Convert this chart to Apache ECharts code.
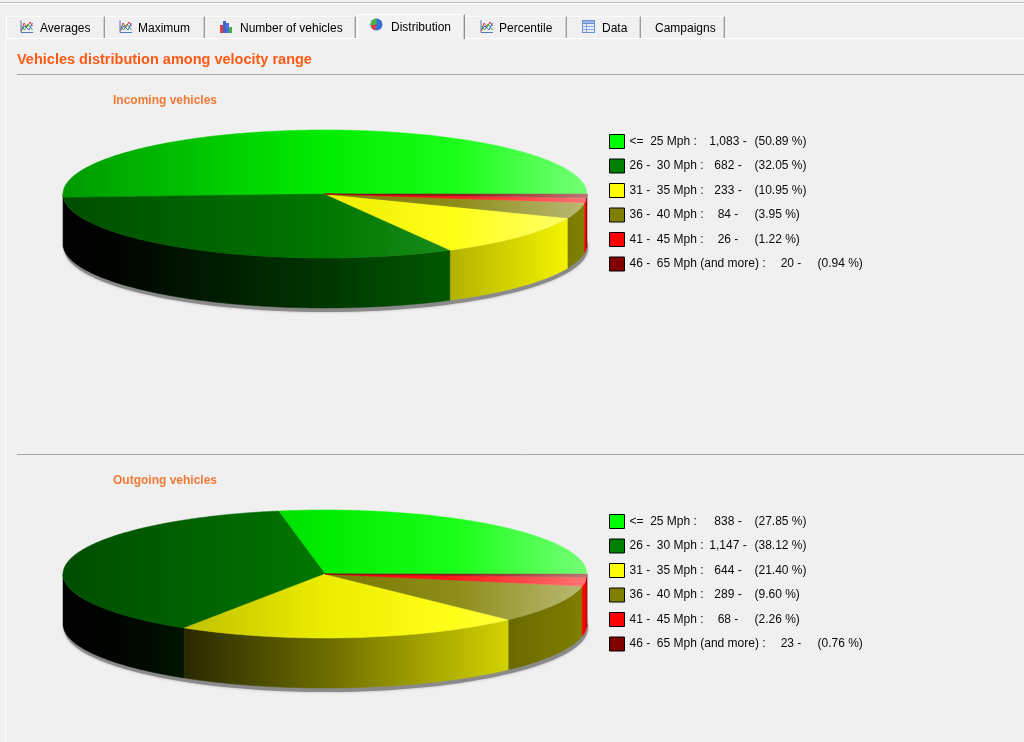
<!DOCTYPE html>
<html>
<head>
<meta charset="utf-8">
<script src="https://cdn.jsdelivr.net/npm/echarts@6/dist/echarts.min.js"></script>
<style>
html,body{margin:0;padding:0;background:#f0f0f0;width:1024px;height:742px;overflow:hidden;font-family:"Liberation Sans",Arial,sans-serif;}
#chart{position:absolute;left:0;top:0;width:1024px;height:742px;}
.ln{position:absolute;}
.tab{position:absolute;top:16px;height:22px;box-sizing:border-box;border-top:1px solid #fbfbfb;border-right:1px solid #9c9c9c;box-shadow:inset -1px 0 0 #cfcfcf;}
.tab.active{top:14px;height:25px;background:#f3f3f3;border-left:1px solid #ffffff;border-top:1px solid #ffffff;border-right:1px solid #8e8e8e;z-index:3;}
.tt{position:absolute;font-size:12px;line-height:14px;color:#000;white-space:nowrap;z-index:4;}
.ic{position:absolute;width:13px;height:13px;z-index:4;}
</style>
</head>
<body>
<div id="chart"></div>
<div class="ln" style="left:0;top:2px;width:1024px;height:1px;background:#bdbdbd;"></div>
<div class="ln" style="left:0;top:3px;width:1024px;height:1px;background:#fafafa;"></div>
<div class="ln" style="left:5px;top:38px;width:1019px;height:1px;background:#ffffff;z-index:2;"></div>
<div class="ln" style="left:5px;top:38px;width:1px;height:704px;background:#ffffff;"></div>

<div class="tab" style="left:6px;width:99px;border-left:1px solid #fff;"></div>
<div class="tab" style="left:105px;width:100px;"></div>
<div class="tab" style="left:205px;width:151px;"></div>
<div class="tab active" style="left:357px;width:108px;"></div>
<div class="tab" style="left:465px;width:102px;"></div>
<div class="tab" style="left:567px;width:74px;"></div>
<div class="tab" style="left:641px;width:84px;"></div>

<svg class="ic" style="left:20px;top:20px" viewBox="0 0 13 13"><path d="M1 0.5V12.5H13" stroke="#5577bb" fill="none"/><polyline points="1.5,11 4,3 7,7 10,2 12.5,6" stroke="#dd3333" fill="none"/><polyline points="1.5,6 4.5,10 8,4 12.5,10" stroke="#33aa33" fill="none"/><polyline points="1.5,9 5,6 9,10 12.5,3" stroke="#3366dd" fill="none"/></svg>
<div class="tt" style="left:40px;top:21px;">Averages</div>
<svg class="ic" style="left:119px;top:20px" viewBox="0 0 13 13"><path d="M1 0.5V12.5H13" stroke="#5577bb" fill="none"/><polyline points="1.5,11 4,3 7,7 10,2 12.5,6" stroke="#dd3333" fill="none"/><polyline points="1.5,6 4.5,10 8,4 12.5,10" stroke="#33aa33" fill="none"/><polyline points="1.5,9 5,6 9,10 12.5,3" stroke="#3366dd" fill="none"/></svg>
<div class="tt" style="left:138px;top:21px;">Maximum</div>
<svg class="ic" style="left:219px;top:20px" viewBox="0 0 13 13"><rect x="1" y="5" width="3" height="8" fill="#e04040"/><rect x="4" y="1" width="3" height="12" fill="#4060d0"/><rect x="7" y="3" width="3" height="10" fill="#4a70e0"/><rect x="10" y="7" width="3" height="6" fill="#40b040"/></svg>
<div class="tt" style="left:240px;top:21px;">Number of vehicles</div>
<svg class="ic" style="left:370px;top:18px" viewBox="0 0 13 13"><circle cx="6.5" cy="6.5" r="6" fill="#3a6fd8"/><path d="M6.5 6.5L6.5 0.5A6 6 0 0 0 0.6 7.5Z" fill="#44bb44"/><path d="M6.5 6.5L0.6 7.5A6 6 0 0 0 5 12.3Z" fill="#e04040"/></svg>
<div class="tt" style="left:391px;top:20px;">Distribution</div>
<svg class="ic" style="left:480px;top:20px" viewBox="0 0 13 13"><path d="M1 0.5V12.5H13" stroke="#5577bb" fill="none"/><polyline points="1.5,11 4,3 7,7 10,2 12.5,6" stroke="#dd3333" fill="none"/><polyline points="1.5,6 4.5,10 8,4 12.5,10" stroke="#33aa33" fill="none"/><polyline points="1.5,9 5,6 9,10 12.5,3" stroke="#3366dd" fill="none"/></svg>
<div class="tt" style="left:499px;top:21px;">Percentile</div>
<svg class="ic" style="left:582px;top:20px" viewBox="0 0 13 13"><rect x="0.5" y="0.5" width="12" height="12" fill="#e6efff" stroke="#6a8fd0"/><rect x="0.5" y="0.5" width="12" height="3" fill="#9db8e8" stroke="#6a8fd0"/><path d="M0.5 6.5H12.5M0.5 9.5H12.5M4.5 3.5V12.5" stroke="#8aa8dc" fill="none"/></svg>
<div class="tt" style="left:602px;top:21px;">Data</div>
<div class="tt" style="left:655px;top:21px;">Campaigns</div>

<script>
// ---------- data ----------
const categories = ['<=  25 Mph', '26 -  30 Mph', '31 -  35 Mph', '36 -  40 Mph', '41 -  45 Mph', '46 -  65 Mph (and more)'];
const incomingValues = [1083, 682, 233, 84, 26, 20];
const outgoingValues = [838, 1147, 644, 289, 68, 23];
const sliceColors = ['#00ff00', '#008000', '#ffff00', '#808000', '#ff0000', '#800000'];
const pieTitles = ['Incoming vehicles', 'Outgoing vehicles'];
const mainTitle = 'Vehicles distribution among velocity range';

// ---------- layout ----------
const FONT = '"Liberation Sans", Arial, sans-serif';
const pies = [
  { key: 'in', values: incomingValues, title: pieTitles[0], cx: 325, cy: 194, rx: 262, ry: 64, depth: 50, legendTop: 134, titleTop: 94 },
  { key: 'out', values: outgoingValues, title: pieTitles[1], cx: 325, cy: 574, rx: 262, ry: 64, depth: 50, legendTop: 514, titleTop: 474 }
];

function rgb(h) { const n = parseInt(h.slice(1), 16); return [(n >> 16) & 255, (n >> 8) & 255, n & 255]; }
function shade(h, f) { return 'rgb(' + rgb(h).map(v => Math.round(v * f)).join(',') + ')'; }
function tint(h, m) { return 'rgb(' + rgb(h).map(v => Math.round(v + (255 - v) * m)).join(',') + ')'; }

function arcPts(g, a1, a2, dy) {
  const n = Math.max(2, Math.ceil((a2 - a1) / 0.01) + 1);
  const pts = [];
  for (let k = 0; k < n; k++) {
    const a = a1 + (a2 - a1) * k / (n - 1);
    pts.push([g.cx + g.rx * Math.cos(a), g.cy - g.ry * Math.sin(a) + dy]);
  }
  return pts;
}

function renderSlice(g, color, value, before, total) {
  const a1 = before / total * Math.PI * 2;
  const a2 = (before + value) / total * Math.PI * 2;
  const x0 = g.cx - g.rx, x1 = g.cx + g.rx;
  const topFill = new echarts.graphic.LinearGradient(x0, 0, x1, 0, [
    { offset: 0, color: shade(color, 0.6) },
    { offset: 0.5, color: shade(color, 0.93) },
    { offset: 0.75, color: tint(color, 0.1) },
    { offset: 1, color: tint(color, 0.46) }
  ], true);
  const sideFill = new echarts.graphic.LinearGradient(x0, 0, x1, 0, [
    { offset: 0, color: shade(color, 0) },
    { offset: 0.1, color: shade(color, 0.03) },
    { offset: 0.5, color: shade(color, 0.42) },
    { offset: 1, color: shade(color, 1) }
  ], true);
  const children = [];
  const s = Math.max(a1, Math.PI), e = Math.min(a2, Math.PI * 2);
  if (e > s) {
    const pts = arcPts(g, s, e, 0).concat(arcPts(g, s, e, g.depth).reverse());
    children.push({ type: 'polygon', shape: { points: pts }, style: { fill: sideFill, stroke: sideFill, lineWidth: 0.5 } });
  }
  const tp = [[g.cx, g.cy]].concat(arcPts(g, a1, a2, 0));
  children.push({ type: 'polygon', shape: { points: tp }, style: { fill: topFill, stroke: topFill, lineWidth: 0.5 } });
  return { type: 'group', children: children };
}

const series = [];
const legends = [];
const legendInfo = {};
const titles = [{
  text: mainTitle, left: 17, top: 52, padding: 0,
  textStyle: { fontFamily: FONT, fontSize: 14.5, fontWeight: 'bold', color: '#ff5a14', lineHeight: 16 }
}];
const graphics = [
  { type: 'line', shape: { x1: 17, y1: 74.5, x2: 1024, y2: 74.5 }, style: { stroke: '#a8a8a8', lineWidth: 1 }, z: 0 },
  { type: 'line', shape: { x1: 17, y1: 454.5, x2: 1024, y2: 454.5 }, style: { stroke: '#a8a8a8', lineWidth: 1 }, z: 0 }
];

const txt = { fontFamily: FONT, fontSize: 12, color: '#0a0a0a', lineHeight: 14 };

pies.forEach(g => {
  const total = g.values.reduce((a, b) => a + b, 0);
  let cum = 0;
  const names = [];
  g.values.forEach((v, i) => {
    const before = cum; cum += v;
    const name = g.key + ':' + categories[i];
    names.push(name);
    legendInfo[name] = {
      label: categories[i],
      value: v.toLocaleString('en-US'),
      pct: (v / total * 100).toFixed(2),
      long: categories[i].length > 14
    };
    const color = sliceColors[i];
    series.push({
      type: 'custom', name: name, coordinateSystem: 'none', z: 2, silent: true,
      itemStyle: { color: color },
      data: [[v, before, total]],
      renderItem: function (params, api) {
        return renderSlice(g, color, api.value(0), api.value(1), api.value(2));
      }
    });
  });
  legends.push({
    orient: 'vertical', left: 609, top: g.legendTop, padding: 0,
    itemWidth: 15, itemHeight: 14, itemGap: 9.5, icon: 'rect', selectedMode: false,
    data: names,
    itemStyle: { borderColor: '#000', borderWidth: 1 },
    formatter: function (name) {
      const d = legendInfo[name];
      return '{' + (d.long ? 'n6' : 'n') + '|' + d.label + ' :}{v|' + d.value + ' -}{p|(' + d.pct + ' %)}';
    },
    textStyle: Object.assign({}, txt, {
      rich: {
        n: Object.assign({ width: 79 }, txt),
        n6: Object.assign({ width: 142 }, txt),
        v: Object.assign({ width: 39, align: 'right' }, txt),
        p: Object.assign({ padding: [0, 0, 0, 7] }, txt)
      }
    })
  });
  titles.push({
    text: g.title, left: 113, top: g.titleTop, padding: 0,
    textStyle: { fontFamily: FONT, fontSize: 12, fontWeight: 'bold', color: '#f27a36', lineHeight: 14 }
  });
  graphics.push({
    type: 'ellipse', shape: { cx: g.cx + 1, cy: g.cy + g.depth + 4, rx: g.rx, ry: g.ry },
    style: { fill: '#8a8a8a', shadowBlur: 3, shadowColor: 'rgba(0,0,0,0.25)' }, z: 0
  });
});

const chart = echarts.init(document.getElementById('chart'), null, { renderer: 'canvas' });
chart.setOption({
  backgroundColor: 'transparent',
  animation: false,
  title: titles,
  legend: legends,
  graphic: { elements: graphics },
  series: series
});
</script>
</body>
</html>
